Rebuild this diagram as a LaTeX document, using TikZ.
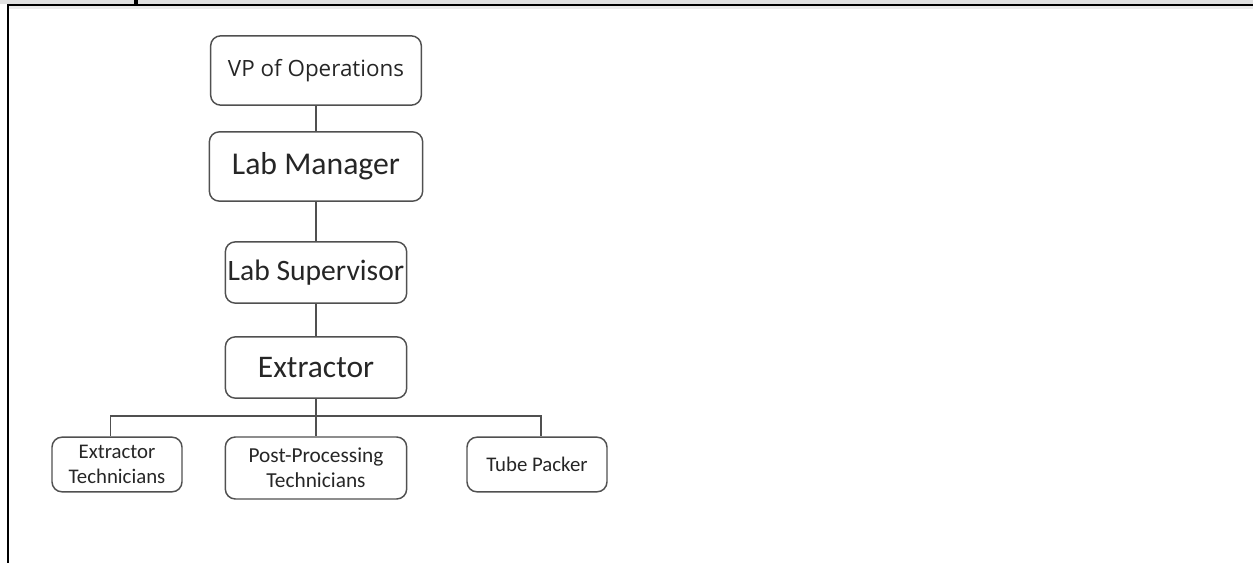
\documentclass[tikz,border=0pt]{standalone}
\usepackage{fontspec}
\setmainfont{Carlito}
\newfontfamily\vpfont{Open Sans}
\definecolor{boxline}{HTML}{505050}
\definecolor{boxtext}{HTML}{262626}
\begin{document}
\begin{tikzpicture}[x=0.75pt,y=-0.75pt,
        orgbox/.style={draw=boxline,line width=1.1pt,rounded corners=7.5pt,inner sep=0pt,align=center,text=boxtext},
        link/.style={draw=boxline,line width=1pt}]
                \useasboundingbox (0,0) rectangle (1253,563);
                % frame at the top and left
                \fill[black!12] (0,0) rectangle (1253,4);
                \fill[black!8] (9,6.5) rectangle (1253,9);
                \draw[line width=1.8pt] (7,5.2) -- (1253,5.2);
                \draw[line width=1.8pt] (8,4) -- (8,563);
                \draw[line width=2.4pt] (136,0) -- (136,5);
                % boxes
                \node[orgbox,minimum width=158pt,minimum height=52pt,font=\vpfont\fontsize{16.8}{20}\selectfont] (vp) at (316,70.5) {VP of Operations};
                \node[orgbox,minimum width=160pt,minimum height=52pt,font=\fontsize{23.8}{28}\selectfont] (mgr) at (316,166.5) {Lab Manager};
                \node[orgbox,minimum width=136pt,minimum height=46pt,font=\fontsize{22.2}{26}\selectfont] (sup) at (316,272.5) {Lab Supervisor};
                \node[orgbox,minimum width=136pt,minimum height=46pt,font=\fontsize{23.6}{28}\selectfont] (ext) at (316,367.5) {Extractor};
                \node[orgbox,minimum width=97.5pt,minimum height=41pt,font=\fontsize{15.6}{18.75}\selectfont] (etech) at (117,464.5) {Extractor\\Technicians};
                \node[orgbox,minimum width=136pt,minimum height=46.5pt,font=\fontsize{16}{18.75}\selectfont] (post) at (316,468) {Post-Processing\\Technicians};
                \node[orgbox,minimum width=105pt,minimum height=41pt,font=\fontsize{15.6}{18.75}\selectfont] (packer) at (537,464.5) {Tube Packer};
                \coordinate (bus) at (316,416);
                % lines
                \draw[link] (vp) -- (mgr);
                \draw[link] (mgr) -- (sup);
                \draw[link] (sup) -- (ext);
                \draw[link] (ext) -- (post);
                \draw[link] ([xshift=-5pt]etech.north) |- (bus) -| ([xshift=3pt]packer.north);
            \end{tikzpicture}
\end{document}
